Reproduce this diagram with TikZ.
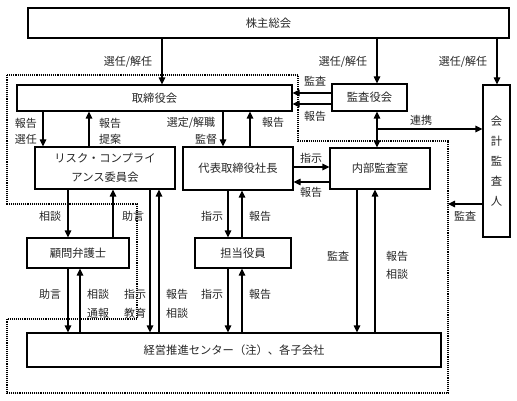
\documentclass[tikz,border=0pt]{standalone}
\usepackage{fontspec}
\newfontfamily\jp{Noto Sans CJK JP}
\usetikzlibrary{arrows.meta}
\begin{document}
\begin{tikzpicture}[x=1pt,y=-1pt,
  box/.style={draw, line width=1.2pt, inner sep=0pt, text=black!85, font=\jp\fontsize{11.3}{12}\selectfont},
  lbl/.style={inner sep=0pt, text=black!85, font=\jp\fontsize{11}{12}\selectfont},
  arr/.style={line width=1.2pt, -{Triangle[length=7pt,width=6.5pt]}},
  darr/.style={line width=1.2pt, {Triangle[length=7pt,width=6.5pt]}-{Triangle[length=7pt,width=6.5pt]}},
  dots/.style={densely dotted, line width=1.1pt}]
\useasboundingbox (0,0) rectangle (517,401);
\fill[white] (0,0) rectangle (517,401);
% dotted outline
\draw[dots] (7,75) -- (298,75) -- (298,141) -- (448,141) -- (448,393) -- (7,393) -- (7,319) -- (137,319) -- (137,204) -- (7,204) -- cycle;
% boxes
\node[box, minimum width=481pt, minimum height=30pt] (kabu) at (268.5,23) {株主総会};
\node[box, minimum width=275pt, minimum height=26pt] (tori) at (154.5,98) {取締役会};
\node[box, minimum width=75pt, minimum height=27pt] (kansa) at (369.5,97.5) {監査役会};
\node[box, minimum width=27pt, minimum height=152pt, align=center, font=\jp\fontsize{11.3}{20}\selectfont] (kaikei) at (496.5,161) {会\\計\\監\\査\\人};
\node[box, minimum width=140pt, minimum height=42pt, align=center, font=\jp\fontsize{11.3}{19}\selectfont] (risk) at (105,168) {リスク・コンプライ\\アンス委員会};
\node[box, minimum width=110pt, minimum height=43pt] (daihyo) at (238,168.5) {代表取締役社長};
\node[box, minimum width=100pt, minimum height=41pt] (naibu) at (380,168.5) {内部監査室};
\node[box, minimum width=102pt, minimum height=30pt] (komon) at (78,253) {顧問弁護士};
\node[box, minimum width=96pt, minimum height=30pt] (tanto) at (243,253) {担当役員};
\node[box, minimum width=414pt, minimum height=34pt] (keiei) at (234,350) {経営推進センター（注）、各子会社};
% connectors from 株主総会
\draw[arr] (kabu.south -| 162,0) -- (tori.north -| 162,0);
\draw[arr] (kabu.south -| 377,0) -- (kansa.north -| 377,0);
\draw[arr] (kabu.south -| 497,0) -- (kaikei.north -| 497,0);
% 監査役会 -> 取締役会
\draw[arr] (kansa.west |- 0,93) -- (tori.east |- 0,93);
\draw[arr] (kansa.west |- 0,104) -- (tori.east |- 0,104);
% 監査役会 <-> 内部監査室, 連携
\draw[darr] (kansa.south -| 377,0) -- (naibu.north -| 377,0);
\coordinate (br) at (377,129);
\draw[arr] (br) -- (kaikei.west |- br);
\coordinate (dotR) at (448,204);
\draw[arr] (kaikei.west |- dotR) -- (dotR);
% 取締役会 <-> リスク
\draw[arr] (tori.south -| 43,0) -- (risk.north -| 43,0);
\draw[arr] (risk.north -| 89,0) -- (tori.south -| 89,0);
% 取締役会 <-> 代表
\draw[arr] (tori.south -| 223,0) -- (daihyo.north -| 223,0);
\draw[arr] (daihyo.north -| 250,0) -- (tori.south -| 250,0);
% 代表 <-> 内部
\draw[arr] (daihyo.east |- 0,167) -- (naibu.west |- 0,167);
\draw[arr] (naibu.west |- 0,182) -- (daihyo.east |- 0,182);
% リスク <-> 顧問
\draw[arr] (risk.south -| 68,0) -- (komon.north -| 68,0);
\draw[arr] (komon.north -| 113,0) -- (risk.south -| 113,0);
% 顧問 <-> 経営
\draw[arr] (komon.south -| 68,0) -- (keiei.north -| 68,0);
\draw[arr] (keiei.north -| 80,0) -- (komon.south -| 80,0);
% リスク <-> 経営
\draw[arr] (risk.south -| 150,0) -- (keiei.north -| 150,0);
\draw[arr] (keiei.north -| 159,0) -- (risk.south -| 159,0);
% 代表 <-> 担当
\draw[arr] (daihyo.south -| 228,0) -- (tanto.north -| 228,0);
\draw[arr] (tanto.north -| 242,0) -- (daihyo.south -| 242,0);
% 担当 <-> 経営
\draw[arr] (tanto.south -| 228,0) -- (keiei.north -| 228,0);
\draw[arr] (keiei.north -| 242,0) -- (tanto.south -| 242,0);
% 内部 <-> 経営
\draw[arr] (naibu.south -| 357,0) -- (keiei.north -| 357,0);
\draw[arr] (keiei.north -| 375,0) -- (naibu.south -| 375,0);
% labels
\node[lbl] (l1) at (128,62) {選任/解任};
\node[lbl] (l2) at (343,62) {選任/解任};
\node[lbl] (l3) at (463,62) {選任/解任};
\node[lbl] (l4) at (315,81) {監査};
\node[lbl] (l5) at (315,116) {報告};
\node[lbl] (l6) at (26,123) {報告};
\node[lbl] (l7) at (26,139) {選任};
\node[lbl] (l8) at (110,123) {報告};
\node[lbl] (l9) at (110,139) {提案};
\node[lbl] (l10) at (191,123) {選定/解職};
\node[lbl] (l11) at (206,139) {監督};
\node[lbl] (l12) at (273,122) {報告};
\node[lbl] (l13) at (421,120) {連携};
\node[lbl] (l14) at (311,158) {指示};
\node[lbl] (l15) at (311,192) {報告};
\node[lbl] (l16) at (465,216) {監査};
\node[lbl] (l17) at (50,216) {相談};
\node[lbl] (l18) at (133,216) {助言};
\node[lbl] (l19) at (212,216) {指示};
\node[lbl] (l20) at (260,216) {報告};
\node[lbl] (l21) at (338,256) {監査};
\node[lbl] (l22) at (397,256) {報告};
\node[lbl] (l23) at (397,274) {相談};
\node[lbl] (l24) at (50,294) {助言};
\node[lbl] (l25) at (98,294) {相談};
\node[lbl] (l26) at (98,313) {通報};
\node[lbl] (l27) at (135,294) {指示};
\node[lbl] (l28) at (135,313) {教育};
\node[lbl] (l29) at (177,294) {報告};
\node[lbl] (l30) at (177,313) {相談};
\node[lbl] (l31) at (212,294) {指示};
\node[lbl] (l32) at (260,294) {報告};
\end{tikzpicture}
\end{document}
